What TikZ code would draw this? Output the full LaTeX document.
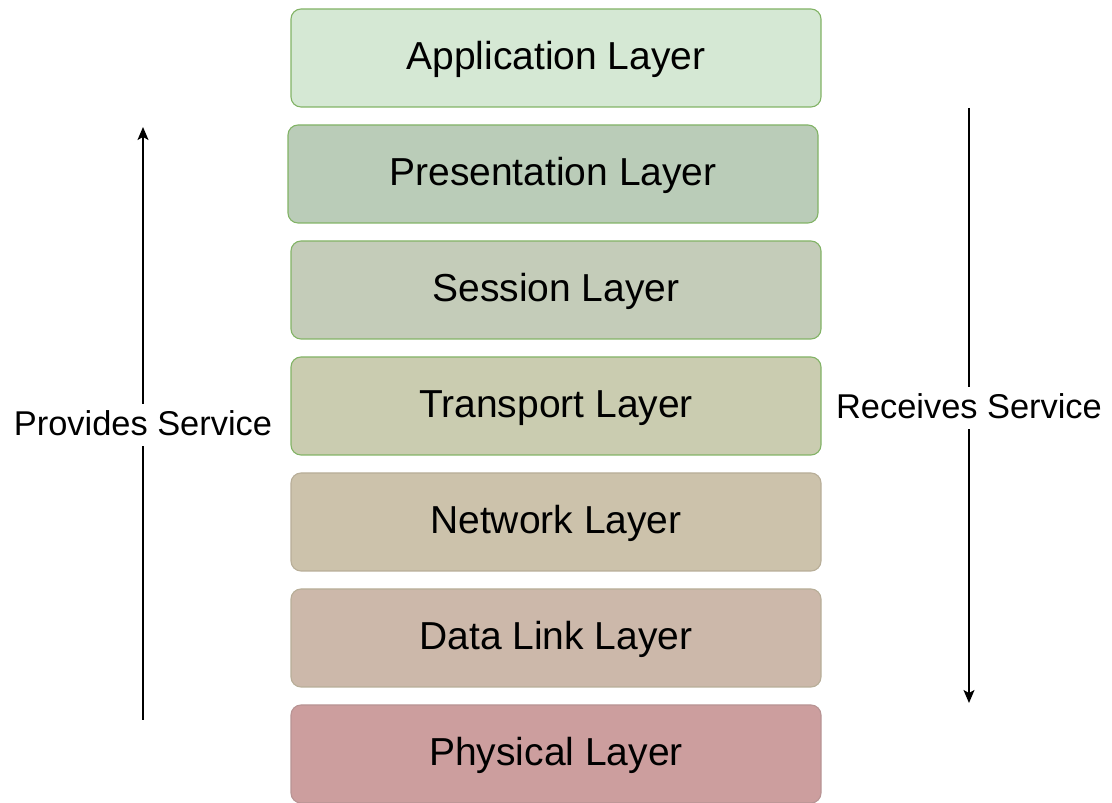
\documentclass[tikz,border=0pt]{standalone}
\usepackage{fontspec}
\setmainfont{Liberation Sans}
\usetikzlibrary{arrows.meta, positioning}

\definecolor{appfill}{HTML}{D5E8D4}
\definecolor{presfill}{HTML}{BACCB8}
\definecolor{sessfill}{HTML}{C4CCB9}
\definecolor{tranfill}{HTML}{CACCB0}
\definecolor{netfill}{HTML}{CCC2AB}
\definecolor{linkfill}{HTML}{CCB8AA}
\definecolor{physfill}{HTML}{CC9E9E}
\definecolor{greenline}{HTML}{82B366}
\definecolor{tanline}{HTML}{B8AE98}
\definecolor{roseline}{HTML}{B89494}

\begin{document}
\begin{tikzpicture}[
    x=1pt, y=1pt,
    layer/.style 2 args={
        rectangle,
        rounded corners=10pt,
        fill=#1,
        draw=#2,
        line width=1.1pt,
        minimum width=530pt,
        minimum height=98pt,
        inner sep=0pt,
        outer sep=0pt,
        text height=28pt,
        text depth=4pt,
        font=\fontsize{39}{46}\selectfont
    },
    side/.style={font=\fontsize{34.4}{41}\selectfont, inner xsep=0pt, inner ysep=6pt,
        text height=26pt, text depth=4pt},
    flow/.style={line width=1.5pt, -{Stealth[length=13pt, width=11pt, inset=3pt]}}
]
\useasboundingbox (0,0) rectangle (1112,803);

% the seven layers
\node[layer={appfill}{greenline}] (app) at (556,745) {Application Layer};
\node[layer={presfill}{greenline}, below=18pt of app, xshift=-3pt] (pres) {Presentation Layer};
\node[layer={sessfill}{greenline}, below=18pt of app, yshift=-116pt] (sess) {Session Layer};
\node[layer={tranfill}{greenline}, below=18pt of sess] (tran) {Transport Layer};
\node[layer={netfill}{tanline}, below=18pt of tran] (net) {Network Layer};
\node[layer={linkfill}{tanline}, below=18pt of net] (link) {Data Link Layer};
\node[layer={physfill}{roseline}, below=18pt of link] (phys) {Physical Layer};

% service arrows
\coordinate (prov_bot) at (143,83);
\coordinate (prov_top) at (143,676);
\node[side] (prov) at (143,378) {Provides Service};
\draw[line width=1.5pt] (prov_bot) -- (prov);
\draw[flow] (prov) -- (prov_top);

\coordinate (recv_top) at (969,695);
\coordinate (recv_bot) at (969,100);
\node[side] (recv) at (969,395) {Receives Service};
\draw[line width=1.5pt] (recv_top) -- (recv);
\draw[flow] (recv) -- (recv_bot);

\end{tikzpicture}
\end{document}
